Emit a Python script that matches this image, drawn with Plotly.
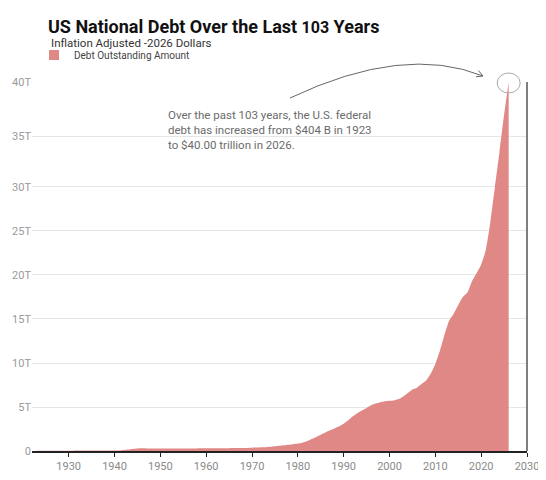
import numpy as np
import plotly.graph_objects as go

# ---------------- data ----------------
years = list(range(1923, 2027))
debt_trillions = [
    # 1923-1940
    0.04, 0.04, 0.04, 0.04, 0.04, 0.04, 0.04, 0.04, 0.04,
    0.05, 0.05, 0.05, 0.05, 0.05, 0.05, 0.05, 0.05, 0.05,
    # 1941-1950
    0.06, 0.12, 0.18, 0.24, 0.28, 0.30, 0.29, 0.28, 0.28, 0.28,
    # 1951-1960
    0.28, 0.28, 0.29, 0.29, 0.29, 0.29, 0.29, 0.29, 0.30, 0.30,
    # 1961-1970
    0.30, 0.31, 0.31, 0.32, 0.32, 0.33, 0.34, 0.35, 0.35, 0.37,
    # 1971-1980
    0.39, 0.42, 0.44, 0.47, 0.53, 0.60, 0.66, 0.72, 0.78, 0.85,
    # 1981-1990
    0.95, 1.10, 1.35, 1.60, 1.85, 2.10, 2.35, 2.55, 2.80, 3.10,
    # 1991-2000
    3.50, 3.95, 4.30, 4.60, 4.90, 5.20, 5.40, 5.55, 5.65, 5.70,
    # 2001-2010
    5.75, 5.90, 6.20, 6.60, 7.00, 7.20, 7.60, 8.00, 8.80, 9.90,
    # 2011-2020
    11.4, 13.2, 14.8, 15.6, 16.6, 17.5, 18.0, 19.3, 20.2, 21.2,
    # 2021-2026
    22.8, 26.0, 30.0, 33.5, 37.0, 40.0,
]
x_tick_years = [1930, 1940, 1950, 1960, 1970, 1980, 1990, 2000, 2010, 2020, 2030]
y_tick_values = [0, 5, 10, 15, 20, 25, 30, 35, 40]
y_tick_labels = ["0", "5T", "10T", "15T", "20T", "25T", "30T", "35T", "40T"]

# the reference's value axis is stretched above 30T; map values onto it
y_scale_positions = [0, 5, 10, 15, 20, 25, 30, 35.73, 41.93]
y_plot = np.interp(debt_trillions, y_tick_values, y_scale_positions)
y_tick_pos = np.interp(y_tick_values, y_tick_values, y_scale_positions)

FONT = "Roboto"
FILL = "#E08886"
PAGE = 8                      # default body margin of the html page
W, H = 546 - PAGE, 480 - PAGE
PLOT_L, PLOT_R, PLOT_T, PLOT_B = 32, 527, 82, 451   # window pixels
ML, MT = PLOT_L - PAGE, PLOT_T - PAGE
PW, PH = PLOT_R - PLOT_L, PLOT_B - PLOT_T
MR, MB = W - ML - PW, H - MT - PH
X0, X1 = 1922, 2030
Y_TOP = y_scale_positions[-1]


def px_to_paper(px, py):
    return ((px - PLOT_L) / PW, (PLOT_B - py) / PH)


fig = go.Figure()
fig.add_trace(go.Scatter(
    x=years, y=y_plot, mode="lines", fill="tozeroy",
    line=dict(width=0, shape="spline", smoothing=0.5),
    fillcolor=FILL, showlegend=False, hoverinfo="skip",
))
# legend entry
fig.add_trace(go.Scatter(
    x=[None], y=[None], mode="markers", name="Debt Outstanding Amount",
    marker=dict(symbol="square", size=10, color=FILL),
))

# decorations: circle around the final value, curved arrow, right border line
cx = (years[-1] - X0) / (X1 - X0)
cy = y_plot[-1] / Y_TOP
rx, ry = 11.5 / PW, 10 / PH
shapes = [
    dict(type="circle", xref="paper", yref="paper",
         x0=cx - rx, x1=cx + rx, y0=cy - ry - 1 / PH, y1=cy + ry - 1 / PH,
         line=dict(color="#aaaaaa", width=1)),
    dict(type="line", xref="paper", yref="paper", x0=1, x1=1, y0=0, y1=1,
         line=dict(color="#555555", width=1.5)),
]

p0 = (290, 98)
p1 = (404, 44)
p2 = (483, 76)
a0, a1, a2 = px_to_paper(*p0), px_to_paper(*p1), px_to_paper(*p2)
path = f"M{a0[0]},{a0[1]} Q{a1[0]},{a1[1]} {a2[0]},{a2[1]}"
shapes.append(dict(type="path", xref="paper", yref="paper", path=path,
                   line=dict(color="#666666", width=1)))
# arrow head (open chevron)
d = np.array([p2[0] - p1[0], p2[1] - p1[1]], dtype=float)
d /= np.linalg.norm(d)
for ang in (np.radians(28), -np.radians(28)):
    rot = np.array([[np.cos(ang), -np.sin(ang)], [np.sin(ang), np.cos(ang)]])
    back = rot @ (-d) * 7
    e = px_to_paper(p2[0] + back[0], p2[1] + back[1])
    shapes.append(dict(type="line", xref="paper", yref="paper",
                       x0=a2[0], y0=a2[1], x1=e[0], y1=e[1],
                       line=dict(color="#666666", width=1)))

annotations = [
    dict(text="Inflation Adjusted -2026 Dollars", xref="paper", yref="paper",
         x=px_to_paper(49, 0)[0], y=px_to_paper(0, 34)[1], xanchor="left", yanchor="top",
         showarrow=False, font=dict(family=FONT, size=11.5, color="#333333")),
    dict(text="Over the past 103 years, the U.S. federal<br>debt has increased from $404 B in 1923<br>to $40.00 trillion in 2026.",
         xref="paper", yref="paper", align="left",
         x=px_to_paper(166, 0)[0], y=px_to_paper(0, 106)[1], xanchor="left", yanchor="top",
         showarrow=False, font=dict(family=FONT, size=11.5, color="#6b6b6b")),
]

fig.update_layout(
    width=W, height=H,
    margin=dict(l=ML, r=MR, t=MT, b=MB, autoexpand=False),
    paper_bgcolor="white", plot_bgcolor="white",
    font=dict(family=FONT),
    title=dict(text="US National Debt Over the Last <span style='font-size:16px'>103</span> Years",
               x=(48 - PAGE) / W, xanchor="left", xref="container",
               y=1 - 12 / H, yanchor="top", yref="container",
               font=dict(family=FONT, size=18, color="#111111", weight="bold")),
    showlegend=True,
    legend=dict(orientation="h", x=(34 - PAGE) / W, xanchor="left", xref="container",
                y=1 - (55 - PAGE) / H, yanchor="middle", yref="container",
                font=dict(family=FONT, size=10, color="#444444"),
                bgcolor="rgba(0,0,0,0)"),
    shapes=shapes,
    annotations=annotations,
    xaxis=dict(range=[X0, X1], tickvals=x_tick_years, showgrid=False,
               showline=True, linecolor="#222222", linewidth=1.5,
               ticks="outside", ticklen=4, tickcolor="#222222",
               tickfont=dict(family=FONT, size=11, color="#8a8a8a"),
               zeroline=False, fixedrange=True, automargin=False),
    yaxis=dict(range=[0, Y_TOP], tickvals=list(y_tick_pos), ticktext=y_tick_labels,
               showgrid=True, gridcolor="#e6e6e6", gridwidth=1,
               showline=False, zeroline=False, ticks="",
               tickfont=dict(family=FONT, size=11, color="#9a9a9a"),
               fixedrange=True, automargin=False),
)

fig.write_html("out.html")
